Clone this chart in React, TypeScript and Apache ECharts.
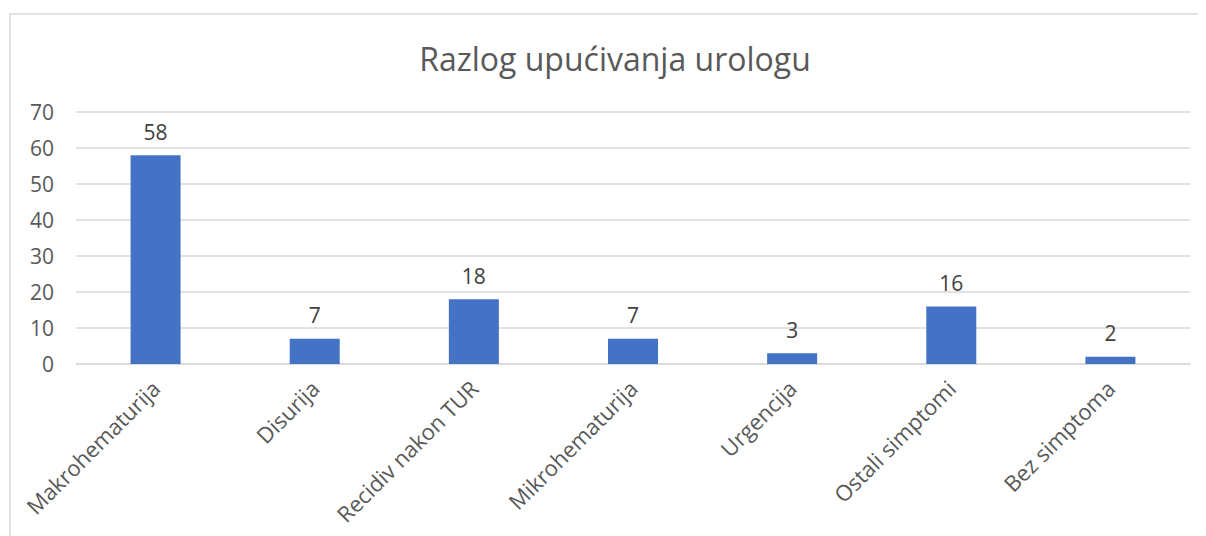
import React, { useEffect, useRef } from "react";
import * as echarts from "echarts";

const categories = [
  "Makrohematurija",
  "Disurija",
  "Recidiv nakon TUR",
  "Mikrohematurija",
  "Urgencija",
  "Ostali simptomi",
  "Bez simptoma",
];
const values = [58, 7, 18, 7, 3, 16, 2];
const yMin = 0;
const yMax = 70;
const yInterval = 10;
const titleText = "Razlog upućivanja urologu";

export default function App() {
  const ref = useRef<HTMLDivElement>(null);
  useEffect(() => {
    if (!ref.current) return;
    const chart = echarts.init(ref.current, undefined, { renderer: "svg" });
    const font = "'Open Sans', 'Noto Sans', sans-serif";
    chart.setOption({
      animation: false,
      backgroundColor: "#ffffff",
      textStyle: { fontFamily: font },
      title: {
        text: titleText,
        left: 602,
        top: 29,
        textAlign: "center",
        textStyle: { fontFamily: font, fontSize: 32, fontWeight: "normal", color: "#595959" },
      },
      graphic: [
        {
          type: "rect",
          shape: { x: 2, y: 6, width: 1300, height: 700 },
          style: { fill: "none", stroke: "#d9d9d9", lineWidth: 1.5 },
          silent: true,
          z: -1,
        },
      ],
      grid: { left: 68, right: 8, top: 104, bottom: 172, containLabel: false },
      xAxis: {
        type: "category",
        data: categories,
        axisLine: { show: true, lineStyle: { color: "#d9d9d9", width: 1.5 } },
        axisTick: { show: false },
        axisLabel: {
          rotate: 45,
          interval: 0,
          margin: 20,
          fontSize: 22,
          color: "#595959",
          fontFamily: font,
        },
      },
      yAxis: {
        type: "value",
        min: yMin,
        max: yMax,
        interval: yInterval,
        axisLine: { show: false },
        axisTick: { show: false },
        splitLine: { lineStyle: { color: "#d9d9d9", width: 1.5 } },
        axisLabel: { fontSize: 21, color: "#595959", margin: 22, fontFamily: font },
      },
      series: [
        {
          type: "bar",
          data: values,
          barWidth: 50,
          itemStyle: { color: "#4472C4" },
          label: {
            show: true,
            position: "top",
            distance: 13,
            fontSize: 21,
            color: "#404040",
            fontFamily: font,
          },
        },
      ],
    });
    return () => chart.dispose();
  }, []);
  return <div ref={ref} style={{ width: 1190, height: 528 }} />;
}
